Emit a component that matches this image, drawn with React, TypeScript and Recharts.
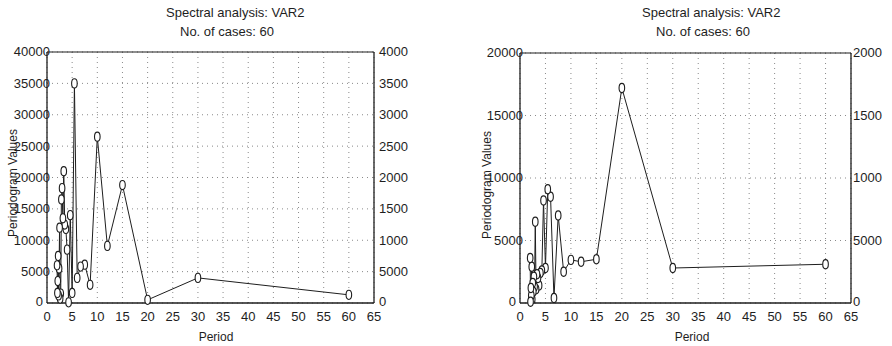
import React from 'react';
import { LineChart, Line, XAxis, YAxis, CartesianGrid, ReferenceLine } from 'recharts';

const periods = [60, 30, 20, 15, 12, 10, 8.57, 7.5, 6.67, 6, 5.45, 5, 4.62, 4.29, 4, 3.75, 3.53, 3.33, 3.16, 3, 2.86, 2.73, 2.61, 2.5, 2.4, 2.31, 2.22, 2.14, 2.07, 2];
const leftValues = [1300, 4000, 500, 18800, 9100, 26500, 2900, 6100, 5800, 4000, 35000, 1600, 14000, 100, 8500, 11800, 12500, 21000, 13500, 18300, 16500, 1500, 700, 12000, 5500, 1200, 7500, 3500, 1600, 6000];
const rightValues = [3100, 2800, 17200, 3500, 3300, 3450, 2500, 7000, 400, 8500, 9100, 2800, 8200, 2600, 2400, 1400, 2000, 2300, 1100, 6500, 1300, 2100, 900, 1600, 300, 2900, 600, 1200, 100, 3600];
const xTicks = [0, 5, 10, 15, 20, 25, 30, 35, 40, 45, 50, 55, 60, 65];
const leftYTicks = [0, 5000, 10000, 15000, 20000, 25000, 30000, 35000, 40000];
const rightYTicks = [0, 5000, 10000, 15000, 20000];
const titleText = 'Spectral analysis: VAR2';
const subtitleText = 'No. of cases: 60';
const xLabel = 'Period';
const yLabel = 'Periodogram Values';

const FONT = '"Liberation Sans", Arial, sans-serif';
const INK = '#1e1e1e';

const Dot = (props: any) => {
  const { cx, cy, index } = props;
  if (cx == null || cy == null) return <g key={index} />;
  return <ellipse key={index} cx={cx} cy={cy} rx={2.8} ry={4.6} fill="#fff" stroke={INK} strokeWidth={1.1} />;
};

type PanelProps = {
  left: number;
  width: number;
  values: number[];
  yTicks: number[];
  yMax: number;
  plotLeft: number;
  plotRight: number;
  plotTop: number;
  plotBottom: number;
  rightGap: number;
};

function Panel(p: PanelProps) {
  const data = periods.map((x, i) => ({ x, v: p.values[i] }));
  const axisW = 40;
  const xAxisH = 30;
  const margin = {
    top: p.plotTop,
    bottom: 346 - p.plotBottom - xAxisH,
    left: p.plotLeft - p.left - axisW,
    right: p.left + p.width - p.plotRight - axisW,
  };
  const leftAxisX = p.plotLeft - p.left;
  const rightAxisX = p.plotRight - p.left;
  const LeftTick = (t: any) => {
    const s = String(t.payload.value);
    const ex = s === '0' ? leftAxisX - 4 : leftAxisX + 3;
    return (
      <text x={ex} y={t.y} dy={s === '0' ? 3.4 : 4.4} textAnchor="end" fontSize={13} fontFamily={FONT} fill={INK}>{s}</text>
    );
  };
  const RightTick = (t: any) => {
    const s = String(t.payload.value).slice(0, 4);
    return (
      <text x={rightAxisX + p.rightGap} y={t.y} dy={s === '0' ? 3.4 : 4.4} textAnchor="start" fontSize={13} fontFamily={FONT} fill={INK}>{s}</text>
    );
  };
  const XTick = (t: any) => (
    <text x={t.x} y={p.plotBottom + 18} textAnchor="middle" fontSize={13} fontFamily={FONT} fill={INK}>{String(t.payload.value)}</text>
  );
  return (
    <div style={{ position: 'absolute', left: p.left, top: 0, width: p.width, height: 346 }}>
      <LineChart width={p.width} height={346} data={data} margin={margin}>
        <CartesianGrid yAxisId="L" stroke="#8a8a8a" strokeDasharray="1 4" strokeWidth={1} />
        <XAxis
          dataKey="x"
          type="number"
          domain={[0, 65]}
          ticks={xTicks}
          height={xAxisH}
          tickLine={false}
          axisLine={{ stroke: INK, strokeWidth: 1.3 }}
          tick={XTick}
          allowDataOverflow
        />
        <YAxis
          yAxisId="L"
          type="number"
          domain={[0, p.yMax]}
          ticks={p.yTicks}
          width={axisW}
          tickLine={false}
          axisLine={{ stroke: INK, strokeWidth: 1.3 }}
          tick={LeftTick}
          interval={0}
        />
        <YAxis
          yAxisId="R"
          orientation="right"
          type="number"
          domain={[0, p.yMax]}
          ticks={p.yTicks}
          width={axisW}
          tickLine={false}
          axisLine={{ stroke: INK, strokeWidth: 1.3 }}
          tick={RightTick}
          interval={0}
        />
        <ReferenceLine yAxisId="L" y={p.yMax} stroke={INK} strokeWidth={1.2} />
        <Line
          yAxisId="R"
          dataKey="v"
          type="linear"
          stroke="none"
          dot={false}
          activeDot={false}
          legendType="none"
          isAnimationActive={false}
        />
        <Line
          yAxisId="L"
          dataKey="v"
          type="linear"
          stroke={INK}
          strokeWidth={1}
          dot={Dot}
          isAnimationActive={false}
        />
      </LineChart>
    </div>
  );
}

export default function App() {
  return (
    <div style={{ position: 'fixed', left: 0, top: 0, width: 892, height: 346, background: '#fff', overflow: 'hidden' }}>
      <Panel left={0} width={450} values={leftValues} yTicks={leftYTicks} yMax={40000} plotLeft={47} plotRight={374} plotTop={52} plotBottom={303} rightGap={5} />
      <Panel left={450} width={442} values={rightValues} yTicks={rightYTicks} yMax={20000} plotLeft={520} plotRight={851} plotTop={53} plotBottom={303} rightGap={2} />
      <svg width={892} height={346} style={{ position: 'absolute', left: 0, top: 0, pointerEvents: 'none' }}>
        <g fontFamily={FONT} fill={INK}>
          <text x={166} y={17} fontSize={13}>{titleText}</text>
          <text x={180} y={36} fontSize={13}>{subtitleText}</text>
          <text x={216} y={341} fontSize={12} textAnchor="middle">{xLabel}</text>
          <text x={17} y={183} fontSize={12} textAnchor="middle" transform="rotate(-90 17 183)">{yLabel}</text>
          <text x={642} y={17} fontSize={13}>{titleText}</text>
          <text x={656} y={36} fontSize={13}>{subtitleText}</text>
          <text x={692} y={341} fontSize={12} textAnchor="middle">{xLabel}</text>
          <text x={491} y={185} fontSize={12} textAnchor="middle" transform="rotate(-90 491 185)">{yLabel}</text>
        </g>
      </svg>
    </div>
  );
}
